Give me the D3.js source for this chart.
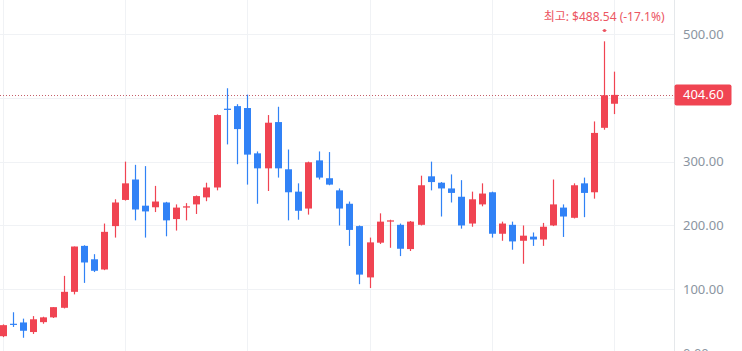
<!DOCTYPE html>
<html>
<head>
<meta charset="utf-8">
<script src="https://cdn.jsdelivr.net/npm/d3@7"></script>
<style>
  html, body { margin: 0; padding: 0; background: #ffffff; overflow: hidden; }
  svg { display: block; font-family: "Noto Sans", "Noto Sans CJK KR", sans-serif; }
</style>
</head>
<body>
<div id="chart"></div>
<script>
// 캔들 데이터 (시가, 고가, 저가, 종가)
const openP  = [26.5, 46, 48, 33, 48.5, 56, 71, 96, 168, 147, 131, 199, 240, 272, 231, 228.5, 236, 210, 228, 233,
                244, 259.5, 383, 387, 384, 313, 289.5, 362, 288, 253, 226.5, 302, 274, 255, 234, 199, 118.6, 173, 206, 201,
                163, 201, 277, 267, 258, 245, 203, 233, 252, 187, 201, 176, 182.5, 178, 200, 228, 212, 266, 252, 353, 390.7];
const highP  = [45, 64, 54, 58, 57, 72, 121, 167, 169, 155, 203, 241, 300, 295, 293, 262, 237, 233, 235, 247,
                267, 374, 415, 390, 405, 316, 373, 386, 319, 266, 300, 316, 315, 258, 237.5, 200, 181, 219, 209, 203,
                207, 278, 300, 268, 280, 271, 253, 266, 253, 206, 206, 200, 189, 204, 272, 233, 266, 275, 363, 488.54, 441];
const lowP   = [25, 41, 24, 30, 46, 55, 70, 92, 110, 127, 130, 181, 239, 208, 181, 221, 183, 192, 208, 218,
                238, 255, 327, 296, 264, 234, 254, 275, 208, 209, 217, 272, 263, 200, 168, 108, 102, 171, 165, 152,
                160, 200, 255, 214, 236, 195, 198, 230, 181, 176, 162, 140, 168, 168, 199, 182, 211, 213, 242, 350, 374.5];
const closeP = [43.8, 45, 35, 53, 56, 72, 96, 167, 142, 129, 190, 236, 266, 225, 222, 237.5, 208, 228, 230, 246,
                259.5, 373, 381, 351, 311, 289.5, 361, 289.5, 252, 223, 299, 275, 264, 226.5, 193, 123, 173.5, 206, 208, 163.5,
                206, 263, 268, 258, 251, 200, 241, 250, 187, 203, 175, 184, 178, 198, 233, 214, 263, 251, 345, 404, 404.6];
const yTicks = [0, 100, 200, 300, 400, 500];
const gridIdx = [0, 12, 24, 36, 48, 60];
const lastPrice = 404.60;
const highLabel = "최고: $488.54 (-17.1%)";

const data = openP.map((o, i) => ({ i: i, o: o, h: highP[i], l: lowP[i], c: closeP[i] }));

const W = 742, H = 351;
const upColor = "#f04452", downColor = "#3182f6";
const axisX = 674.5;

const svg = d3.select("#chart").append("svg")
    .attr("width", W)
    .attr("height", H);

const x = d3.scaleLinear().domain([0, 60]).range([2.5, 614.3]);
const y = d3.scaleLinear().domain([0, 500]).range([353.1, 34]);
const bodyW = 7;

// 그리드
svg.append("g")
    .selectAll("line")
    .data(yTicks)
    .join("line")
    .attr("x1", 0).attr("x2", axisX)
    .attr("y1", d => Math.round(y(d)) + 0.5)
    .attr("y2", d => Math.round(y(d)) + 0.5)
    .attr("stroke", "#f0f2f5");

svg.append("g")
    .selectAll("line")
    .data(gridIdx)
    .join("line")
    .attr("x1", d => Math.round(x(d)) + 0.5)
    .attr("x2", d => Math.round(x(d)) + 0.5)
    .attr("y1", 0).attr("y2", H)
    .attr("stroke", "#f0f2f5");

// 현재가 점선
svg.append("line")
    .attr("x1", 0).attr("x2", axisX)
    .attr("y1", Math.round(y(lastPrice)) + 0.5)
    .attr("y2", Math.round(y(lastPrice)) + 0.5)
    .attr("stroke", "#c45f6a")
    .attr("stroke-width", 1)
    .attr("stroke-dasharray", "1,2");

// 캔들
const candles = svg.append("g")
    .selectAll("g")
    .data(data)
    .join("g");

candles.append("line")
    .attr("x1", d => Math.round(x(d.i)) + 0.5)
    .attr("x2", d => Math.round(x(d.i)) + 0.5)
    .attr("y1", d => y(d.h))
    .attr("y2", d => y(d.l))
    .attr("stroke", d => d.c >= d.o ? upColor : downColor)
    .attr("stroke-width", 1.2);

candles.append("rect")
    .attr("x", d => Math.round(x(d.i)) + 0.5 - bodyW / 2)
    .attr("width", bodyW)
    .attr("y", d => y(Math.max(d.o, d.c)))
    .attr("height", d => Math.max(1.2, Math.abs(y(d.o) - y(d.c))))
    .attr("fill", d => d.c >= d.o ? upColor : downColor);

// 최고가 표시
const hiIdx = d3.maxIndex(data, d => d.h);
svg.append("text")
    .attr("x", x(hiIdx))
    .attr("y", 21)
    .attr("text-anchor", "middle")
    .attr("font-size", "12px")
    .attr("fill", "#ec5662")
    .text(highLabel);

svg.append("circle")
    .attr("cx", Math.round(x(hiIdx)) + 0.5)
    .attr("cy", 30.5)
    .attr("r", 1.6)
    .attr("fill", "#ec5662");

svg.append("line")
    .attr("x1", Math.round(x(hiIdx)) - 1.5)
    .attr("x2", Math.round(x(hiIdx)) + 2.5)
    .attr("y1", 30.5).attr("y2", 30.5)
    .attr("stroke", "#ec5662")
    .attr("stroke-width", 0.8);

// 오른쪽 가격 축
svg.append("rect")
    .attr("x", axisX)
    .attr("y", 0)
    .attr("width", W - axisX)
    .attr("height", H)
    .attr("fill", "#ffffff");

svg.append("line")
    .attr("x1", axisX).attr("x2", axisX)
    .attr("y1", 0).attr("y2", H)
    .attr("stroke", "#e5e8eb");

// 현재가 라벨에 가려지는 눈금은 숨김
const shownTicks = yTicks.filter(t => Math.abs(y(t) - y(lastPrice)) > 14);

const yAxis = svg.append("g")
    .attr("transform", `translate(${axisX},0)`)
    .call(d3.axisRight(y).tickValues(shownTicks).tickFormat(d3.format(".2f")).tickSize(0).tickPadding(8.5));

yAxis.select(".domain").remove();
yAxis.selectAll("text")
    .attr("font-size", "13px")
    .attr("font-family", "\"Noto Sans\", sans-serif")
    .attr("fill", "#8b95a1");

// 현재가 라벨
svg.append("rect")
    .attr("x", axisX)
    .attr("y", y(lastPrice) - 10.5)
    .attr("width", 57)
    .attr("height", 21)
    .attr("rx", 2)
    .attr("fill", upColor);

svg.append("text")
    .attr("x", axisX + 8.5)
    .attr("y", y(lastPrice))
    .attr("dy", "0.35em")
    .attr("font-size", "13px")
    .attr("fill", "#ffffff")
    .text(lastPrice.toFixed(2));
</script>
</body>
</html>
